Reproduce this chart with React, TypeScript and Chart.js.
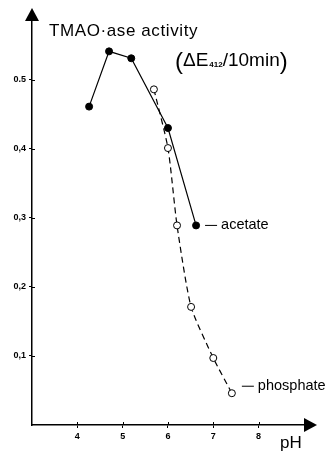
import React, { useEffect, useRef } from "react";
import { Chart, registerables } from "chart.js";

Chart.register(...registerables);

const acetatePH = [4.26, 4.7, 5.19, 6.0, 6.62];
const acetateActivity = [0.461, 0.541, 0.531, 0.43, 0.289];
const phosphatePH = [5.69, 6.0, 6.2, 6.51, 7.0, 7.41];
const phosphateActivity = [0.486, 0.401, 0.289, 0.171, 0.097, 0.046];
const xTickValues = [4, 5, 6, 7, 8];
const yTickValues = [0.1, 0.2, 0.3, 0.4, 0.5];
const yTickLabels = ["0,1", "0,2", "0,3", "0,4", "0.5"];
const seriesNames = ["acetate", "phosphate"];

const FONT = "'Liberation Sans', Arial, sans-serif";

const decorPlugin = {
  id: "decor",
  afterDraw(chart: any) {
    const { ctx, chartArea, scales } = chart;
    const xs = scales.x;
    const ys = scales.y;
    const x0 = chartArea.left;
    const y0 = chartArea.bottom;
    ctx.save();
    ctx.fillStyle = "#000";
    ctx.strokeStyle = "#000";
    ctx.lineWidth = 1;
    // inner tick marks
    ctx.beginPath();
    xTickValues.forEach((v) => {
      const px = Math.round(xs.getPixelForValue(v)) + 0.5;
      ctx.moveTo(px, y0);
      ctx.lineTo(px, y0 - 3);
    });
    yTickValues.forEach((v) => {
      const py = Math.round(ys.getPixelForValue(v)) + 0.5;
      ctx.moveTo(x0, py);
      ctx.lineTo(x0 + 3, py);
    });
    ctx.stroke();
    // arrow heads
    ctx.beginPath();
    ctx.moveTo(x0, chartArea.top - 4);
    ctx.lineTo(x0 - 7, chartArea.top + 9);
    ctx.lineTo(x0 + 7, chartArea.top + 9);
    ctx.closePath();
    ctx.fill();
    ctx.beginPath();
    ctx.moveTo(chartArea.right + 4, y0);
    ctx.lineTo(chartArea.right - 9, y0 - 7);
    ctx.lineTo(chartArea.right - 9, y0 + 7);
    ctx.closePath();
    ctx.fill();

    // title
    ctx.textBaseline = "alphabetic";
    ctx.textAlign = "left";
    ctx.font = `17px ${FONT}`;
    (ctx as any).letterSpacing = "0.6px";
    ctx.fillText("TMAO·ase activity", 49, 36);
    (ctx as any).letterSpacing = "0px";
    // (ΔE412/10min)
    let cx = 175;
    const by = 66;
    ctx.font = `24px ${FONT}`;
    ctx.fillText("(", cx, by + 3);
    cx += ctx.measureText("(").width;
    ctx.font = `19px ${FONT}`;
    ctx.fillText("ΔE", cx, by);
    cx += ctx.measureText("ΔE").width + 1;
    ctx.font = `bold 8px ${FONT}`;
    ctx.fillText("412", cx, by + 1);
    cx += ctx.measureText("412").width;
    ctx.font = `19px ${FONT}`;
    ctx.fillText("/10min", cx, by);
    cx += ctx.measureText("/10min").width;
    ctx.font = `24px ${FONT}`;
    ctx.fillText(")", cx, by + 3);

    // series labels
    ctx.font = `14.5px ${FONT}`;
    const ax = xs.getPixelForValue(acetatePH[acetatePH.length - 1]);
    const ay = ys.getPixelForValue(acetateActivity[acetateActivity.length - 1]);
    ctx.beginPath();
    ctx.moveTo(ax + 9, ay);
    ctx.lineTo(ax + 21, ay);
    ctx.stroke();
    ctx.textBaseline = "middle";
    ctx.fillText(seriesNames[0], ax + 25, ay);
    const px = xs.getPixelForValue(phosphatePH[phosphatePH.length - 1]);
    const py = ys.getPixelForValue(phosphateActivity[phosphateActivity.length - 1]) - 7;
    ctx.beginPath();
    ctx.moveTo(px + 10, py);
    ctx.lineTo(px + 22, py);
    ctx.stroke();
    ctx.fillText(seriesNames[1], px + 26, py);

    // pH
    ctx.font = `17px ${FONT}`;
    ctx.textBaseline = "alphabetic";
    ctx.fillText("pH", 280, 448);
    ctx.restore();
  },
};

export default function App() {
  const ref = useRef<HTMLCanvasElement | null>(null);
  useEffect(() => {
    if (!ref.current) return;
    const chart = new Chart(ref.current, {
      type: "scatter",
      data: {
        datasets: [
          {
            label: seriesNames[0],
            data: acetatePH.map((x, i) => ({ x, y: acetateActivity[i] })),
            showLine: true,
            borderColor: "#000",
            backgroundColor: "#000",
            borderWidth: 1.2,
            pointRadius: 3.5,
            pointBorderWidth: 1,
            pointBorderColor: "#000",
            pointBackgroundColor: "#000",
          },
          {
            label: seriesNames[1],
            data: phosphatePH.map((x, i) => ({ x, y: phosphateActivity[i] })),
            showLine: true,
            borderColor: "#000",
            backgroundColor: "#fff",
            borderWidth: 1.2,
            borderDash: [6, 4],
            tension: 0.2,
            pointRadius: 3.5,
            pointBorderWidth: 1,
            pointBorderColor: "#000",
            pointBackgroundColor: "#fff",
          },
        ],
      },
      options: {
        animation: false,
        responsive: false,
        maintainAspectRatio: false,
        layout: { padding: { top: 12, right: 14, left: 0, bottom: 0 } },
        plugins: {
          legend: { display: false },
          tooltip: { enabled: false },
          title: { display: false },
        },
        scales: {
          x: {
            type: "linear",
            min: 3,
            max: 9.2,
            afterBuildTicks: (s: any) => {
              s.ticks = xTickValues.map((v) => ({ value: v }));
            },
            afterFit: (s: any) => {
              s.height = 27;
            },
            border: { display: true, color: "#000", width: 1.5 },
            grid: { drawOnChartArea: false, drawTicks: true, tickLength: 3, color: "#000" },
            ticks: {
              color: "#000",
              padding: 3,
              font: { family: FONT, size: 9, weight: "bold" },
              callback: (v: any) => String(v),
            },
          },
          y: {
            type: "linear",
            min: 0,
            max: 0.598,
            afterBuildTicks: (s: any) => {
              s.ticks = yTickValues.map((v) => ({ value: v }));
            },
            afterFit: (s: any) => {
              s.width = 32;
            },
            border: { display: true, color: "#000", width: 1.5 },
            grid: { drawOnChartArea: false, drawTicks: true, tickLength: 3, color: "#000" },
            ticks: {
              color: "#000",
              padding: 3,
              font: { family: FONT, size: 9, weight: "bold" },
              callback: (v: any) => {
                const i = yTickValues.findIndex((t) => Math.abs(t - v) < 1e-6);
                return i >= 0 ? yTickLabels[i] : "";
              },
            },
          },
        },
      },
      plugins: [decorPlugin],
    } as any);
    return () => chart.destroy();
  }, []);
  return (
    <div style={{ position: "fixed", left: 0, top: 0, width: 327, height: 452, background: "#fff" }}>
      <canvas ref={ref} width={327} height={452} style={{ width: 327, height: 452 }} />
    </div>
  );
}
